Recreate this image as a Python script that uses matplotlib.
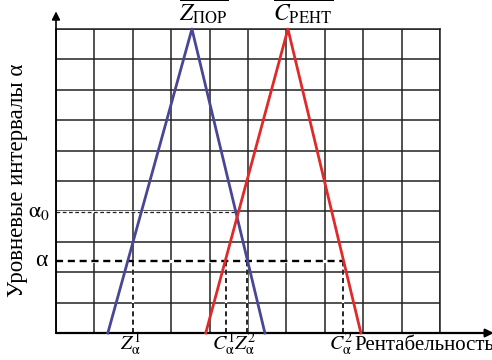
import matplotlib
matplotlib.use("Agg")
import matplotlib.pyplot as plt
from matplotlib import font_manager as fm

SERIF = 'Liberation Serif'
serif_path = fm.findfont(fm.FontProperties(family=SERIF))
plt.rcParams['mathtext.fontset'] = 'stix'


def serif(size):
    return fm.FontProperties(fname=serif_path, size=size)


# triangular fuzzy numbers (left, peak, right), in grid units
z_por = [1.35, 3.54, 5.44]
c_rent = [3.90, 6.04, 7.94]
tri_levels = [0, 10, 0]

alpha0 = 3.98
alpha = 2.37
alpha0_end = 4.7
# alpha-cut bounds
cut_x = [2.0, 4.42, 4.97, 7.47]
cut_labels = [r'$Z_{\mathrm{α}}^{1}$', r'$C_{\mathrm{α}}^{1}$',
              r'$Z_{\mathrm{α}}^{2}$', r'$C_{\mathrm{α}}^{2}$']

fig = plt.figure(figsize=(4.92, 3.6), dpi=100)

# plain serif texts first
fig.text(18/492, 0.5, 'Уровневые интервалы α', rotation=90, ha='center',
         va='center', fontproperties=serif(16.5))

ax = fig.add_axes([56/492, 27/360, 384/492, 304/360])
ax.set_xlim(0, 10)
ax.set_ylim(0, 10)
ax.set_xticks(range(11))
ax.set_yticks(range(11))
ax.tick_params(length=0, labelbottom=False, labelleft=False)
ax.grid(True, color='#222222', lw=1.1)
for s in ax.spines.values():
    s.set_color('#222222')
    s.set_linewidth(1.1)
ax.set_axisbelow(True)

# white out grid under dashes
ax.plot([0, alpha0_end], [alpha0, alpha0], color='white', lw=1.6, zorder=2)
ax.plot([0, cut_x[3]], [alpha, alpha], color='white', lw=2.2, zorder=2)
ax.plot([0, alpha0_end], [alpha0, alpha0], color='#222222', lw=0.9,
        ls=(0, (3, 2)), zorder=3)
ax.plot([0, cut_x[3]], [alpha, alpha], color='black', lw=1.7,
        ls=(0, (3, 2)), zorder=3)
for x in cut_x:
    ax.plot([x, x], [0, alpha], color='white', lw=1.6, zorder=2)
    ax.plot([x, x], [0, alpha], color='black', lw=1.2, ls=(0, (3, 2)), zorder=3)

ax.plot(z_por, tri_levels, color='#4a4696', lw=2.0, zorder=4, clip_on=False)
ax.plot(c_rent, tri_levels, color='#e02a2a', lw=2.0, zorder=4, clip_on=False)

# axis arrows
ax.annotate('', xy=(0, 1.058), xytext=(0, 0), xycoords='axes fraction',
            arrowprops=dict(arrowstyle='-|>', color='black', lw=1.2,
                            mutation_scale=12, shrinkA=0, shrinkB=0))
ax.annotate('', xy=(1.14, 0), xytext=(0, 0), xycoords='axes fraction',
            arrowprops=dict(arrowstyle='-|>', color='black', lw=1.6,
                            mutation_scale=12, shrinkA=0, shrinkB=0))

ax.text(7.78, -0.56, 'Рентабельность', ha='left', va='baseline',
        fontproperties=serif(15), clip_on=False)
ax.text(-0.22, alpha, 'α', ha='right', va='center',
        fontproperties=serif(17), clip_on=False)

for x, lab in zip(cut_x, cut_labels):
    ax.text(x - 0.05, -0.56, lab, ha='center', va='baseline', fontsize=14.5,
            clip_on=False)

ax.text(z_por[1] + 0.3, 10.26, r'$\overline{Z_{\mathrm{ПОР}}}$', ha='center',
        va='baseline', fontsize=17, clip_on=False)
ax.text(c_rent[1] + 0.4, 10.26, r'$\overline{C_{\mathrm{РЕНТ}}}$', ha='center',
        va='baseline', fontsize=17, clip_on=False)

ax.text(-0.15, alpha0, r'$\mathrm{α}_{0}$', ha='right', va='center',
        fontsize=16, clip_on=False)

fig.savefig('out.png', dpi=100)
